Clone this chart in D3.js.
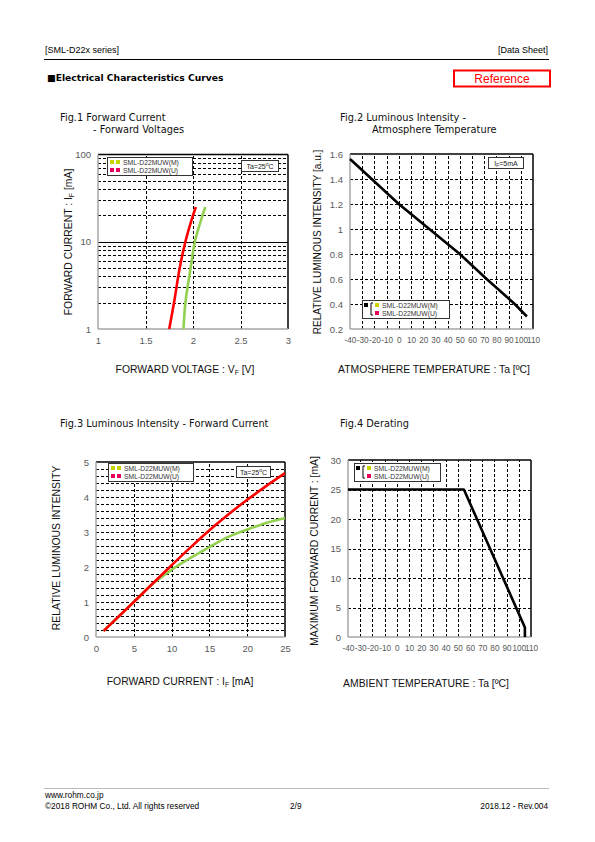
<!DOCTYPE html>
<html><head><meta charset="utf-8">
<script src="https://cdn.jsdelivr.net/npm/d3@7"></script>
<style>
html,body{margin:0;padding:0;background:#fff;}
svg{display:block;}
</style></head>
<body>
<script>
// ---------- DATA ----------
const seriesNames = ["SML-D22MUW(M)", "SML-D22MUW(U)"];

// Fig.1 Forward current vs forward voltage
const fig1Current = [1, 2, 5, 10, 20, 25];
const fig1VoltM = [1.90, 1.92, 1.975, 2.02, 2.10, 2.13];
const fig1VoltU = [1.75, 1.80, 1.86, 1.92, 2.00, 2.03];
const fig1XTicks = [1, 1.5, 2, 2.5, 3];
const fig1YTicks = [1, 10, 100];

// Fig.2 Luminous intensity vs atmosphere temperature
const fig2Temp = [-40, 0, 25, 50, 72, 95, 105];
const fig2Intensity = [1.56, 1.20, 1.00, 0.80, 0.60, 0.40, 0.30];
const fig2XTicks = [-40, -30, -20, -10, 0, 10, 20, 30, 40, 50, 60, 70, 80, 90, 100, 110];
const fig2YTicks = [0.2, 0.4, 0.6, 0.8, 1, 1.2, 1.4, 1.6];

// Fig.3 Luminous intensity vs forward current
const fig3Current = [1, 5, 7.5, 10, 12.5, 15, 17.5, 20, 22.5, 25];
const fig3M = [0.17, 1.00, 1.52, 1.92, 2.26, 2.57, 2.86, 3.07, 3.26, 3.40];
const fig3U = [0.17, 1.00, 1.53, 2.05, 2.56, 3.05, 3.50, 3.92, 4.31, 4.68];
const fig3XTicks = [0, 5, 10, 15, 20, 25];
const fig3YTicks = [0, 1, 2, 3, 4, 5];

// Fig.4 Derating
const fig4Temp = [-40, 55, 105, 105];
const fig4Current = [25, 25, 1.6, 0];
const fig4XTicks = [-40, -30, -20, -10, 0, 10, 20, 30, 40, 50, 60, 70, 80, 90, 100, 110];
const fig4YTicks = [0, 5, 10, 15, 20, 25, 30];

// ---------- STYLE ----------
const colM = "#92d050", colU = "#ff0000";
const legM = "#c8d400", legU = "#e6005c";
const tickCol = "#595959";
const FONT = "'Liberation Sans', Arial, sans-serif";
const JFONT = "'DejaVu Sans', Verdana, sans-serif";
const LABSIZE = 10.4;

const svg = d3.select("body").append("svg").attr("width", 595).attr("height", 842);

// ---------- HEADER / FOOTER ----------
svg.append("text").attr("x", 45).attr("y", 53).attr("font-family", FONT).attr("font-size", 9).text("[SML-D22x series]");
svg.append("text").attr("x", 548).attr("y", 53).attr("text-anchor", "end").attr("font-family", FONT).attr("font-size", 9).text("[Data Sheet]");
svg.append("line").attr("x1", 44).attr("x2", 549).attr("y1", 59.5).attr("y2", 59.5).attr("stroke", "#000").attr("stroke-width", 1);
svg.append("text").attr("x", 47).attr("y", 81).attr("font-family", JFONT).attr("font-size", 9.2).attr("font-weight", "bold").text("■Electrical Characteristics Curves");
svg.append("rect").attr("x", 454).attr("y", 70.5).attr("width", 96).attr("height", 16).attr("fill", "none").attr("stroke", "#ff0000").attr("stroke-width", 2);
svg.append("text").attr("x", 502).attr("y", 83).attr("text-anchor", "middle").attr("font-family", FONT).attr("font-size", 12).attr("fill", "#ff0000").text("Reference");

svg.append("line").attr("x1", 44).attr("x2", 549).attr("y1", 788.5).attr("y2", 788.5).attr("stroke", "#bbb").attr("stroke-width", 1);
svg.append("text").attr("x", 45).attr("y", 798).attr("font-family", FONT).attr("font-size", 8.3).text("www.rohm.co.jp");
svg.append("text").attr("x", 45).attr("y", 809).attr("font-family", FONT).attr("font-size", 8.3).text("©2018 ROHM Co., Ltd. All rights reserved");
svg.append("text").attr("x", 290).attr("y", 809).attr("font-family", FONT).attr("font-size", 8.3).text("2/9");
svg.append("text").attr("x", 548).attr("y", 809).attr("text-anchor", "end").attr("font-family", FONT).attr("font-size", 8.3).text("2018.12 - Rev.004");

// ---------- HELPERS ----------
function title(lines) {
  lines.forEach(l => svg.append("text").attr("x", l[0]).attr("y", l[1]).attr("font-family", JFONT).attr("font-size", 9.8).attr("fill", "#111").text(l[2]));
}
function hgrid(x, y, ticks, dashed) {
  svg.append("g").selectAll("line").data(ticks).join("line")
    .attr("x1", x.range()[0]).attr("x2", x.range()[1])
    .attr("y1", d => Math.round(y(d)) + 0.5).attr("y2", d => Math.round(y(d)) + 0.5)
    .attr("stroke", "#000").attr("stroke-width", 1).attr("stroke-dasharray", dashed ? "3,2" : null);
}
function vgrid(x, y, ticks) {
  svg.append("g").selectAll("line").data(ticks).join("line")
    .attr("y1", y.range()[0]).attr("y2", y.range()[1])
    .attr("x1", d => Math.round(x(d)) + 0.5).attr("x2", d => Math.round(x(d)) + 0.5)
    .attr("stroke", "#000").attr("stroke-width", 1).attr("stroke-dasharray", "3,2");
}
function frame(x, y) {
  const [x0, x1] = x.range(), [y0, y1] = y.range();
  svg.append("line").attr("x1", x0).attr("x2", x1).attr("y1", y1).attr("y2", y1).attr("stroke", "#000").attr("stroke-width", 1.5);
  svg.append("line").attr("x1", x1).attr("x2", x1).attr("y1", y1).attr("y2", y0).attr("stroke", "#000").attr("stroke-width", 1.5);
  svg.append("line").attr("x1", x0).attr("x2", x1).attr("y1", y0).attr("y2", y0).attr("stroke", "#a6a6a6").attr("stroke-width", 1.5);
  svg.append("line").attr("x1", x0).attr("x2", x0).attr("y1", y1).attr("y2", y0).attr("stroke", "#a6a6a6").attr("stroke-width", 1.5);
}
function yAxis(y, x, ticks, fmt, size) {
  const g = svg.append("g").attr("transform", `translate(${x.range()[0]},0)`)
    .call(d3.axisLeft(y).tickValues(ticks).tickFormat(fmt).tickSize(0).tickPadding(7));
  g.select(".domain").remove();
  g.selectAll("text").attr("font-family", FONT).attr("font-size", size || 9.5).attr("fill", tickCol);
}
function xAxis(x, y, ticks, fmt, size, pad) {
  const g = svg.append("g").attr("transform", `translate(0,${y.range()[0]})`)
    .call(d3.axisBottom(x).tickValues(ticks).tickFormat(fmt).tickSize(0).tickPadding(pad || 8));
  g.select(".domain").remove();
  g.selectAll("text").attr("font-family", FONT).attr("font-size", size || 9.5).attr("fill", tickCol);
}
function label(x, y, rot, parts, size) {
  const t = svg.append("text").attr("transform", `translate(${x},${y}) rotate(${rot})`)
    .attr("text-anchor", "middle").attr("font-family", FONT).attr("font-size", size || LABSIZE).attr("fill", "#111");
  parts.forEach(p => {
    const s = t.append("tspan").text(p.t);
    if (p.sub) s.attr("font-size", 6.8).attr("dy", 2);
    if (p.back) s.attr("dy", -2);
  });
}
function legendPlain(x, y, w) {
  svg.append("rect").attr("x", x + 0.5).attr("y", y + 0.5).attr("width", w).attr("height", 18).attr("fill", "#fff").attr("stroke", "#333").attr("stroke-width", 1);
  [[legM, seriesNames[0]], [legU, seriesNames[1]]].forEach((e, i) => {
    const cy = y + 5 + i * 8;
    svg.append("rect").attr("x", x + 3).attr("y", cy - 2).attr("width", 4).attr("height", 4).attr("fill", e[0]);
    svg.append("rect").attr("x", x + 9).attr("y", cy - 2).attr("width", 4).attr("height", 4).attr("fill", e[0]);
    svg.append("text").attr("x", x + 16).attr("y", cy + 2.5).attr("font-family", FONT).attr("font-size", 6.8).attr("fill", "#333").text(e[1]);
  });
}
function legendBracket(x, y, w) {
  svg.append("rect").attr("x", x + 0.5).attr("y", y + 0.5).attr("width", w).attr("height", 18).attr("fill", "#fff").attr("stroke", "#333").attr("stroke-width", 1);
  svg.append("rect").attr("x", x + 2).attr("y", y + 3).attr("width", 4).attr("height", 4).attr("fill", "#000");
  svg.append("path").attr("d", `M${x + 11},${y + 3} h-2 v12 h2`).attr("fill", "none").attr("stroke", "#000").attr("stroke-width", 1);
  [[legM, seriesNames[0]], [legU, seriesNames[1]]].forEach((e, i) => {
    const cy = y + 5 + i * 8;
    svg.append("rect").attr("x", x + 13).attr("y", cy - 2).attr("width", 4).attr("height", 4).attr("fill", e[0]);
    svg.append("text").attr("x", x + 20).attr("y", cy + 2.5).attr("font-family", FONT).attr("font-size", 6.8).attr("fill", "#333").text(e[1]);
  });
}
function condBox(x, y, w, parts) {
  svg.append("rect").attr("x", x + 0.5).attr("y", y + 0.5).attr("width", w).attr("height", 11).attr("fill", "#fff").attr("stroke", "#333").attr("stroke-width", 1);
  const t = svg.append("text").attr("x", x + w / 2 + 0.5).attr("y", y + 8.8).attr("text-anchor", "middle").attr("font-family", FONT).attr("font-size", 7).attr("fill", "#222");
  parts.forEach(p => {
    const s = t.append("tspan").text(p.t);
    if (p.sup) s.attr("font-size", 5).attr("dy", -2.5);
    if (p.sub) s.attr("font-size", 5).attr("dy", 1.5);
    if (p.back) s.attr("dy", p.back);
  });
}
function curve(x, y, xs, ys, color, w, c) {
  const pts = xs.map((d, i) => [d, ys[i]]);
  svg.append("path").datum(pts)
    .attr("d", d3.line().x(d => x(d[0])).y(d => y(d[1])).curve(c || d3.curveLinear))
    .attr("fill", "none").attr("stroke", color).attr("stroke-width", w).attr("stroke-linejoin", "round");
}

// ---------- FIG 1 ----------
title([[60, 121, "Fig.1 Forward Current"], [93, 133, "- Forward Voltages"]]);
{
  const x = d3.scaleLinear().domain([1, 3]).range([98, 288]);
  const y = d3.scaleLog().domain([1, 100]).range([329, 154.5]);
  const minor = [2, 3, 4, 5, 6, 7, 8, 9, 20, 30, 40, 50, 60, 70, 80, 90];
  hgrid(x, y, minor, true);
  hgrid(x, y, [10], false);
  vgrid(x, y, fig1XTicks.slice(1, -1));
  frame(x, y);
  yAxis(y, x, fig1YTicks, d3.format("d"));
  xAxis(x, y, fig1XTicks, d => String(d));
  curve(x, y, fig1VoltM, fig1Current, colM, 2.6, d3.curveCatmullRom);
  curve(x, y, fig1VoltU, fig1Current, colU, 2.6, d3.curveCatmullRom);
  legendPlain(107, 157, 85);
  condBox(241, 160, 37, [{t: "Ta=25"}, {t: "o", sup: true}, {t: "C", back: 2.5}]);
  label(72, 242, -90, [{t: "FORWARD CURRENT : I"}, {t: "F", sub: true}, {t: " [mA]", back: true}]);
  label(185, 373, 0, [{t: "FORWARD VOLTAGE : V"}, {t: "F", sub: true}, {t: " [V]", back: true}]);
}

// ---------- FIG 2 ----------
title([[340, 121, "Fig.2 Luminous Intensity -"], [372, 133, "Atmosphere Temperature"]]);
{
  const x = d3.scaleLinear().domain([-40, 110]).range([350, 533]);
  const y = d3.scaleLinear().domain([0.2, 1.6]).range([329, 154]);
  hgrid(x, y, fig2YTicks.slice(1, -1), true);
  vgrid(x, y, fig2XTicks.slice(1, -1));
  frame(x, y);
  yAxis(y, x, fig2YTicks, d => String(+d.toFixed(1)));
  xAxis(x, y, fig2XTicks, d => String(d), 8.2, 8);
  curve(x, y, fig2Temp, fig2Intensity, "#000", 2.6);
  legendBracket(362, 300, 87);
  condBox(488, 157, 35, [{t: "I"}, {t: "F", sub: true}, {t: "=5mA", back: -1.5}]);
  label(321, 242, -90, [{t: "RELATIVE LUMINOUS INTENSITY [a.u.]"}], 10.1);
  label(434, 373, 0, [{t: "ATMOSPHERE TEMPERATURE : Ta [ºC]"}]);
}

// ---------- FIG 3 ----------
title([[60, 427, "Fig.3 Luminous Intensity - Forward Current"]]);
{
  const x = d3.scaleLinear().domain([0, 25]).range([96, 285]);
  const y = d3.scaleLinear().domain([0, 5]).range([637, 462]);
  hgrid(x, y, d3.range(1, 25).map(i => i * 0.2), true);
  vgrid(x, y, fig3XTicks.slice(1, -1));
  frame(x, y);
  yAxis(y, x, fig3YTicks, d3.format("d"));
  xAxis(x, y, fig3XTicks, d3.format("d"));
  curve(x, y, fig3Current, fig3M, colM, 2.6, d3.curveMonotoneX);
  curve(x, y, fig3Current, fig3U, colU, 2.6, d3.curveMonotoneX);
  legendPlain(108, 463, 85);
  condBox(236, 466, 34, [{t: "Ta=25"}, {t: "o", sup: true}, {t: "C", back: 2.5}]);
  label(60, 548, -90, [{t: "RELATIVE LUMINOUS INTENSITY"}]);
  label(180, 685, 0, [{t: "FORWARD CURRENT : I"}, {t: "F", sub: true}, {t: " [mA]", back: true}]);
}

// ---------- FIG 4 ----------
title([[340, 427, "Fig.4 Derating"]]);
{
  const x = d3.scaleLinear().domain([-40, 110]).range([348, 531]);
  const y = d3.scaleLinear().domain([0, 30]).range([637, 460]);
  hgrid(x, y, fig4YTicks.slice(1, -1), true);
  vgrid(x, y, fig4XTicks.slice(1, -1));
  frame(x, y);
  yAxis(y, x, fig4YTicks, d3.format("d"));
  xAxis(x, y, fig4XTicks, d => String(d), 8.2, 8);
  curve(x, y, fig4Temp, fig4Current, "#000", 2.6);
  legendBracket(354, 463, 86);
  label(318, 551, -90, [{t: "MAXIMUM FORWARD CURRENT :  [mA]"}]);
  label(426, 687, 0, [{t: "AMBIENT TEMPERATURE : Ta [ºC]"}]);
}
</script>
</body></html>
